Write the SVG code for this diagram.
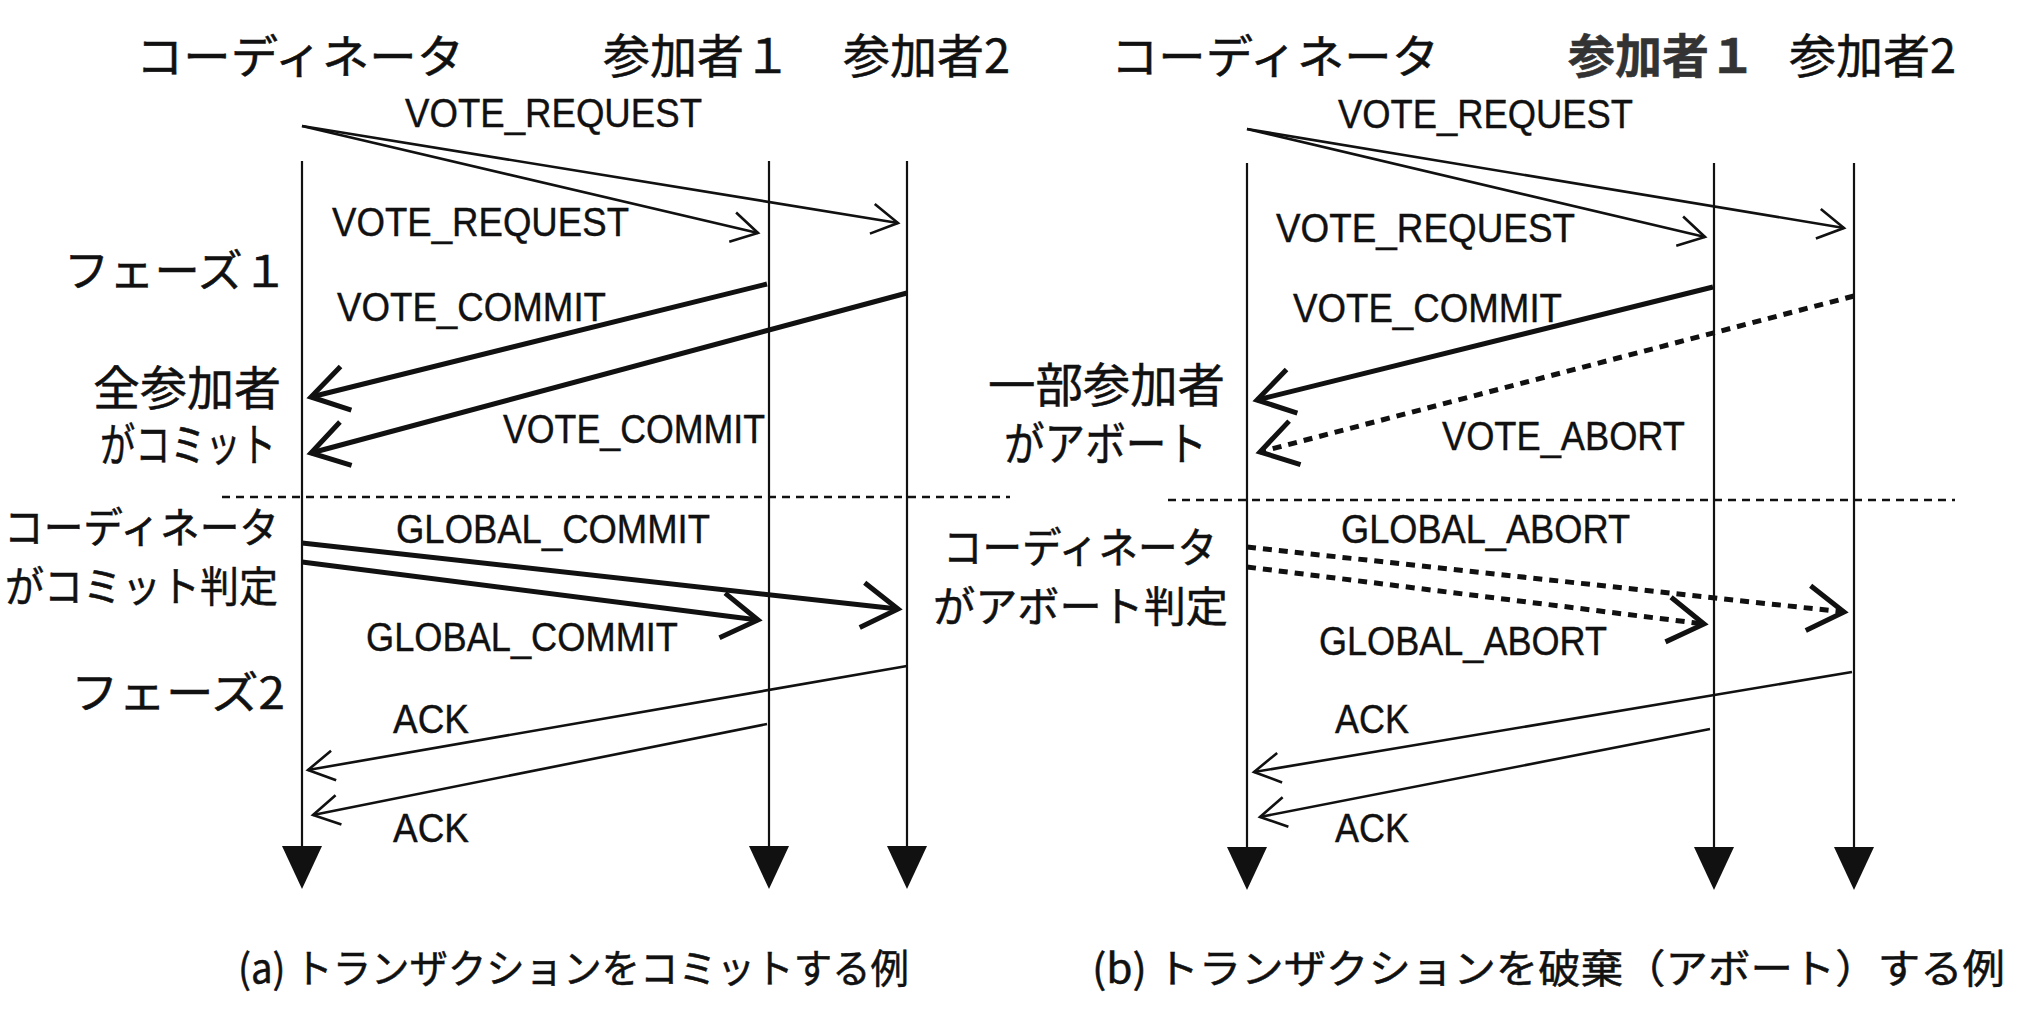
<svg xmlns="http://www.w3.org/2000/svg" width="2034" height="1016" viewBox="0 0 2034 1016">
<style>
.bg{fill:#ffffff}
.jp{font-family:"Noto Sans CJK JP","Noto Sans",sans-serif;fill:#111;stroke:#111;stroke-width:0.5}
.hd{font-size:46px}
.pt{font-size:47px}
.note{font-size:44px}
.cap{font-size:40px}
.lbl{font-family:"Liberation Sans",Arial,sans-serif;font-size:40px;fill:#111;stroke:#111;stroke-width:0.4}
.life{stroke:#111;stroke-width:2.2;fill:none}
.tri{fill:#111}
.thin{stroke:#111;stroke-width:2.6;fill:none;marker-end:url(#chevThin)}
.thick{stroke:#111;stroke-width:5;fill:none;marker-end:url(#chevThick)}
.dot{stroke:#111;stroke-width:5;fill:none;stroke-dasharray:9 7;marker-end:url(#chevThick)}
.divider{stroke:#111;stroke-width:2.6;fill:none;stroke-dasharray:8 6}
</style>
<defs>
<marker id="chevThin" markerUnits="userSpaceOnUse" orient="auto" refX="0" refY="0" markerWidth="60" markerHeight="60" overflow="visible">
<path d="M -26,-15 L 0,0 L -26,15" fill="none" stroke="#111" stroke-width="2.6" stroke-dasharray="none"/>
</marker>
<marker id="chevThick" markerUnits="userSpaceOnUse" orient="auto" refX="0" refY="0" markerWidth="80" markerHeight="80" overflow="visible">
<path d="M -36,-22.5 L 0,0 L -36,22.5" fill="none" stroke="#111" stroke-width="5" stroke-dasharray="none"/>
</marker>
</defs>
<rect class="bg" x="0" y="0" width="2034" height="1016"/>

<g id="panel-a">
<g id="a-coordinator">
<text class="jp hd" x="136" y="73" textLength="328" lengthAdjust="spacingAndGlyphs">コーディネータ</text>
<line class="life" x1="302" y1="161" x2="302" y2="850"/>
<polygon class="tri" points="282,846 322,846 302,889"/>
</g>
<g id="a-participant1">
<text class="jp pt" x="603" y="73">参加者１</text>
<line class="life" x1="769" y1="161" x2="769" y2="850"/>
<polygon class="tri" points="749,846 789,846 769,889"/>
</g>
<g id="a-participant2">
<text class="jp pt" x="843" y="73">参加者2</text>
<line class="life" x1="907" y1="161" x2="907" y2="850"/>
<polygon class="tri" points="887,846 927,846 907,889"/>
</g>
<g id="a-notes">
<text class="jp note" x="64" y="287" textLength="224" lengthAdjust="spacingAndGlyphs">フェーズ１</text>
<text class="jp pt" x="93" y="405" textLength="188" lengthAdjust="spacingAndGlyphs">全参加者</text>
<text class="jp hd" x="100" y="461" textLength="176" lengthAdjust="spacingAndGlyphs">がコミット</text>
<line class="divider" x1="222" y1="497" x2="1010" y2="497"/>
<text class="jp" font-size="42" x="4" y="543" textLength="275" lengthAdjust="spacingAndGlyphs">コーディネータ</text>
<text class="jp" font-size="42" x="5" y="602" textLength="273" lengthAdjust="spacingAndGlyphs">がコミット判定</text>
<text class="jp note" x="71" y="709" textLength="214" lengthAdjust="spacingAndGlyphs">フェーズ2</text>
<text class="jp cap" x="238" y="983" textLength="671" lengthAdjust="spacingAndGlyphs">(a) トランザクションをコミットする例</text>
</g>
</g>

<g id="panel-b">
<g id="b-coordinator">
<text class="jp hd" x="1111" y="73" textLength="328" lengthAdjust="spacingAndGlyphs">コーディネータ</text>
<line class="life" x1="1247" y1="163" x2="1247" y2="850"/>
<polygon class="tri" points="1227,847 1267,847 1247,890"/>
</g>
<g id="b-participant1">
<text class="jp pt" x="1568" y="73" style="fill:#333;stroke:#333;font-weight:bold">参加者１</text>
<line class="life" x1="1714" y1="163" x2="1714" y2="850"/>
<polygon class="tri" points="1694,847 1734,847 1714,890"/>
</g>
<g id="b-participant2">
<text class="jp pt" x="1789" y="73">参加者2</text>
<line class="life" x1="1854" y1="163" x2="1854" y2="850"/>
<polygon class="tri" points="1834,847 1874,847 1854,890"/>
</g>
<g id="b-notes">
<text class="jp pt" x="988" y="402" textLength="237" lengthAdjust="spacingAndGlyphs">一部参加者</text>
<text class="jp hd" x="1004" y="460" textLength="203" lengthAdjust="spacingAndGlyphs">がアボート</text>
<line class="divider" x1="1168" y1="500" x2="1955" y2="500"/>
<text class="jp" font-size="42" x="943" y="563" textLength="274" lengthAdjust="spacingAndGlyphs">コーディネータ</text>
<text class="jp" font-size="42" x="933" y="622" textLength="295" lengthAdjust="spacingAndGlyphs">がアボート判定</text>
<text class="jp cap" x="1092" y="983" textLength="913" lengthAdjust="spacingAndGlyphs">(b) トランザクションを破棄（アボート）する例</text>
</g>
</g>

<g id="connectors">
<line class="thin" x1="302" y1="126" x2="758" y2="233"/>
<line class="thin" x1="302" y1="126" x2="898" y2="223"/>
<line class="thick" x1="767" y1="284" x2="311" y2="397"/>
<line class="thick" x1="907" y1="293" x2="311" y2="453"/>
<line class="thick" x1="302" y1="543" x2="898" y2="609"/>
<line class="thick" x1="302" y1="562" x2="758" y2="620"/>
<line class="thin" x1="907" y1="666" x2="308" y2="770"/>
<line class="thin" x1="767" y1="724" x2="313" y2="815"/>

<line class="thin" x1="1247" y1="129" x2="1705" y2="237"/>
<line class="thin" x1="1247" y1="129" x2="1844" y2="228"/>
<line class="thick" x1="1713" y1="287" x2="1257" y2="400"/>
<line class="dot" x1="1854" y1="296" x2="1260" y2="452"/>
<line class="dot" x1="1247" y1="547" x2="1844" y2="612"/>
<line class="dot" x1="1247" y1="567" x2="1704" y2="624"/>
<line class="thin" x1="1852" y1="672" x2="1254" y2="772"/>
<line class="thin" x1="1710" y1="729" x2="1260" y2="817"/>
</g>

<g id="connector-labels">
<text class="lbl" x="405" y="127" textLength="297" lengthAdjust="spacingAndGlyphs">VOTE_REQUEST</text>
<text class="lbl" x="332" y="236" textLength="297" lengthAdjust="spacingAndGlyphs">VOTE_REQUEST</text>
<text class="lbl" x="337" y="321" textLength="269" lengthAdjust="spacingAndGlyphs">VOTE_COMMIT</text>
<text class="lbl" x="503" y="443" textLength="262" lengthAdjust="spacingAndGlyphs">VOTE_COMMIT</text>
<text class="lbl" x="396" y="543" textLength="314" lengthAdjust="spacingAndGlyphs">GLOBAL_COMMIT</text>
<text class="lbl" x="366" y="651" textLength="312" lengthAdjust="spacingAndGlyphs">GLOBAL_COMMIT</text>
<text class="lbl" x="393" y="733" textLength="76" lengthAdjust="spacingAndGlyphs">ACK</text>
<text class="lbl" x="393" y="842" textLength="76" lengthAdjust="spacingAndGlyphs">ACK</text>

<text class="lbl" x="1338" y="128" textLength="295" lengthAdjust="spacingAndGlyphs">VOTE_REQUEST</text>
<text class="lbl" x="1276" y="242" textLength="299" lengthAdjust="spacingAndGlyphs">VOTE_REQUEST</text>
<text class="lbl" x="1293" y="322" textLength="269" lengthAdjust="spacingAndGlyphs">VOTE_COMMIT</text>
<text class="lbl" x="1442" y="450" textLength="243" lengthAdjust="spacingAndGlyphs">VOTE_ABORT</text>
<text class="lbl" x="1341" y="543" textLength="289" lengthAdjust="spacingAndGlyphs">GLOBAL_ABORT</text>
<text class="lbl" x="1319" y="655" textLength="288" lengthAdjust="spacingAndGlyphs">GLOBAL_ABORT</text>
<text class="lbl" x="1335" y="733" textLength="74" lengthAdjust="spacingAndGlyphs">ACK</text>
<text class="lbl" x="1335" y="842" textLength="74" lengthAdjust="spacingAndGlyphs">ACK</text>
</g>
</svg>
